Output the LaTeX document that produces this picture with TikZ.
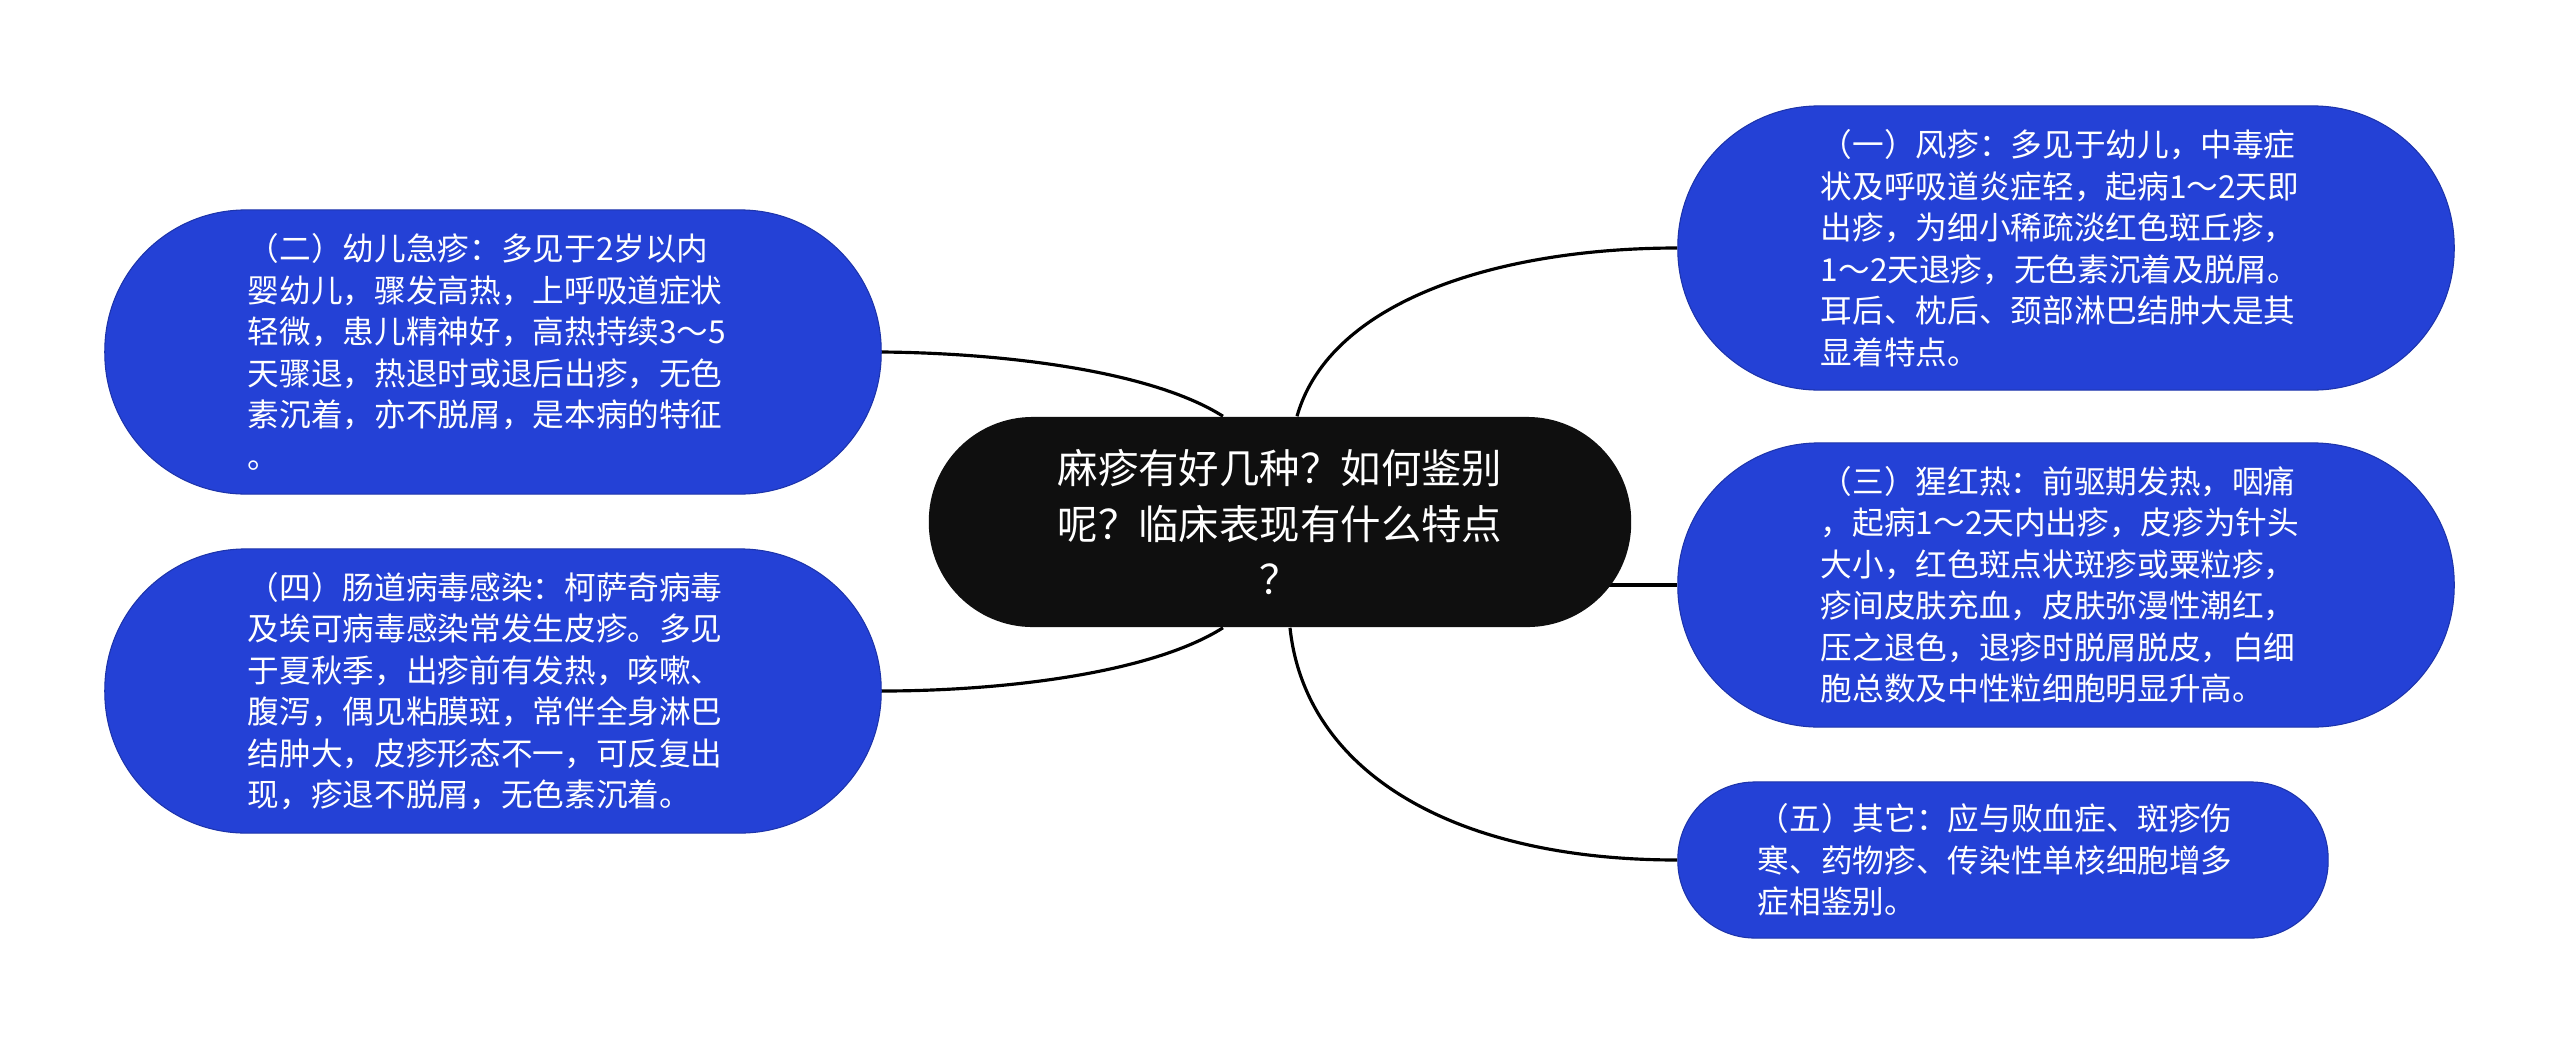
\documentclass[tikz,border=0pt]{standalone}
\usepackage{fontspec}
\setmainfont{Noto Sans CJK SC}
\usetikzlibrary{positioning,backgrounds}
\definecolor{leafblue}{HTML}{2441D6}
\definecolor{rootblack}{HTML}{0F0F0F}
\tikzset{
rootnode/.style={rectangle, rounded corners=1.04cm, fill=rootblack, text=white, minimum width=7.02cm, minimum height=2.1cm, text width=4.6cm, align=center, font=\fontsize{11.5pt}{15.9pt}\selectfont},
leafnode/.style={rectangle, rounded corners=1.41cm, fill=leafblue, draw=leafblue!80!black, line width=0.3pt, text=white, minimum width=7.76cm, minimum height=2.84cm, text width=4.9cm, align=left, font=\fontsize{9pt}{11.8pt}\selectfont},
smallleaf/.style={leafnode, minimum width=6.5cm, minimum height=1.56cm, rounded corners=0.77cm},
link/.style={draw=black, line width=0.9pt}
}

\begin{document}
\begin{tikzpicture}[x=0.01cm, y=-0.01cm]

%Mind map nodes
\node[rootnode] (root) at(1280,522) {麻疹有好几种？如何鉴别\\呢？临床表现有什么特点\\？};

\node[leafnode] (roseola) at(493,352) {（二）幼儿急疹：多见于2岁以内\\婴幼儿，骤发高热，上呼吸道症状\\轻微，患儿精神好，高热持续3～5\\天骤退，热退时或退后出疹，无色\\素沉着，亦不脱屑，是本病的特征\\。};
\node[leafnode] (entero) at(493,691) {（四）肠道病毒感染：柯萨奇病毒\\及埃可病毒感染常发生皮疹。多见\\于夏秋季，出疹前有发热，咳嗽、\\腹泻，偶见粘膜斑，常伴全身淋巴\\结肿大，皮疹形态不一，可反复出\\现，疹退不脱屑，无色素沉着。};

\node[leafnode] (rubella) at(2066,248) {（一）风疹：多见于幼儿，中毒症\\状及呼吸道炎症轻，起病1～2天即\\出疹，为细小稀疏淡红色斑丘疹，\\1～2天退疹，无色素沉着及脱屑。\\耳后、枕后、颈部淋巴结肿大是其\\显着特点。};
\node[leafnode] (scarlet) at(2066,585) {（三）猩红热：前驱期发热，咽痛\\，起病1～2天内出疹，皮疹为针头\\大小，红色斑点状斑疹或粟粒疹，\\疹间皮肤充血，皮肤弥漫性潮红，\\压之退色，退疹时脱屑脱皮，白细\\胞总数及中性粒细胞明显升高。};
\node[smallleaf] (others) at(2003,860) {（五）其它：应与败血症、斑疹伤\\寒、药物疹、传染性单核细胞增多\\症相鉴别。};

%Connectors
\begin{pgfonlayer}{background}
\fill[white] (0,0) rectangle (2560,1045);
\draw[link] ([xshift=-0.57cm]root.north) .. controls (1150,370) and (1000,353) .. (roseola.east);
\draw[link] ([xshift=-0.57cm]root.south) .. controls (1150,674) and (1000,691) .. (entero.east);
\draw[link] ([xshift=0.17cm]root.north) .. controls (1330,300) and (1500,248) .. (rubella.west);
\draw[link] (root.center |- scarlet.west) -- (scarlet.west);
\draw[link] ([xshift=0.1cm]root.south) .. controls (1305,770) and (1450,860) .. (others.west);
\end{pgfonlayer}

\useasboundingbox (0,0) rectangle (2560,1045);
\end{tikzpicture}
\end{document}
